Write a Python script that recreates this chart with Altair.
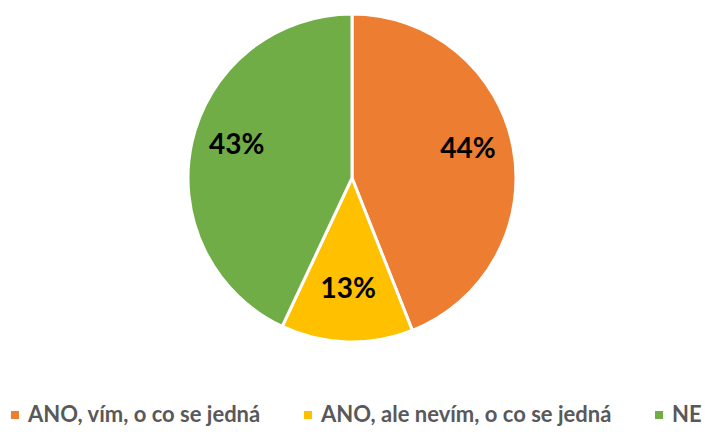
import altair as alt
import pandas as pd

categories = ["ANO, vím, o co se jedná", "ANO, ale nevím, o co se jedná", "NE"]
values = [44, 13, 43]
colors = ["#ED7D31", "#FFC000", "#70AD47"]

df = pd.DataFrame({
    "cat": categories,
    "val": values,
    "ord": list(range(len(categories))),
    "label": [f"{v}%" for v in values],
})

base = alt.Chart(df).encode(
    theta=alt.Theta("val:Q", stack=True),
    order=alt.Order("ord:Q"),
)

pie = base.mark_arc(outerRadius=164, stroke="white", strokeWidth=3).encode(
    color=alt.Color(
        "cat:N",
        scale=alt.Scale(domain=categories, range=colors),
        sort=categories,
        legend=alt.Legend(
            title=None,
            orient="none",
            direction="horizontal",
            legendX=-4,
            legendY=396,
            padding=0,
            symbolType="square",
            symbolSize=64,
            symbolStrokeWidth=0,
            labelFont="Lato",
            labelFontSize=22,
            labelFontWeight="bold",
            labelColor="#595959",
            labelLimit=400,
            columnPadding=36,
            labelOffset=2,
        ),
    )
)

text = base.mark_text(
    radius=118, dy=-6, font="Lato", fontSize=28, fontWeight="bold", color="black"
).encode(text="label:N")

chart = (
    (pie + text)
    .properties(
        width=688,
        height=340,
        autosize=alt.AutoSizeParams(type="none"),
        padding={"left": 0, "top": 0, "right": 6, "bottom": 78},
    )
    .configure_view(stroke=None)
)

chart.save("out.html", embed_options={"renderer": "svg", "actions": False})
